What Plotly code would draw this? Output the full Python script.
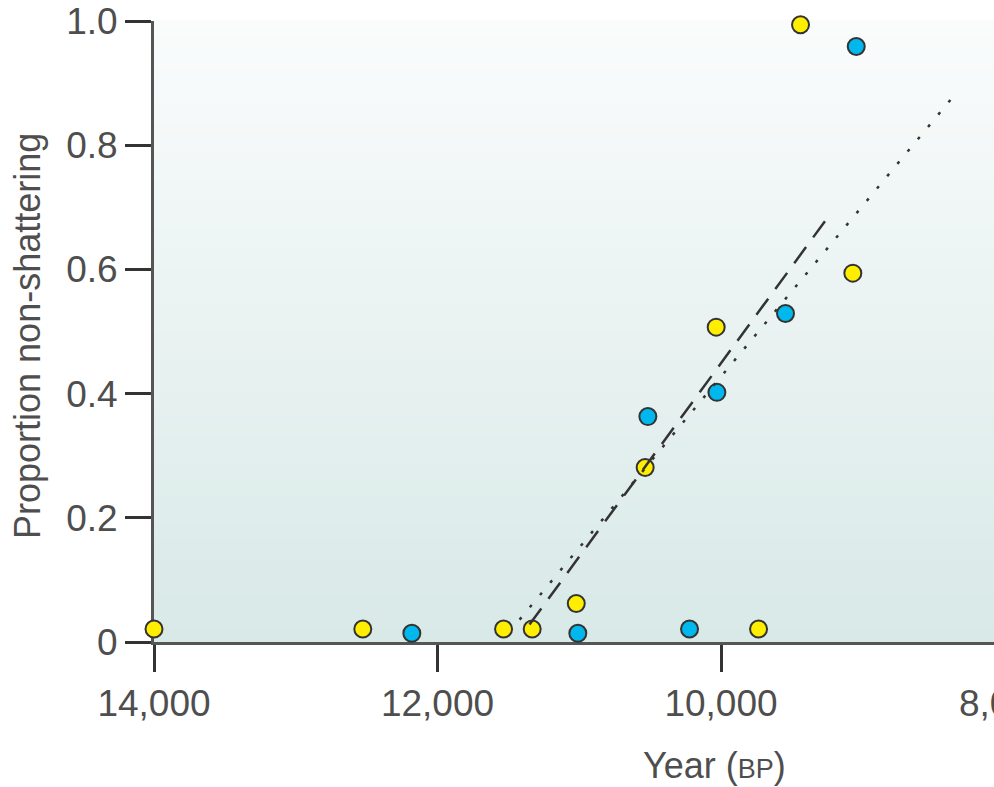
import plotly.graph_objects as go

# Proportion of non-shattering rachis by sample age (years BP)
yellow_year = [14000, 12527, 11534, 11332, 11021, 10535, 10034, 9735, 9439, 9070]
yellow_prop = [0.021, 0.021, 0.021, 0.021, 0.062, 0.281, 0.507, 0.021, 0.994, 0.594]

blue_year = [12181, 11010, 10516, 10222, 10029, 9545, 9046]
blue_prop = [0.014, 0.014, 0.363, 0.021, 0.402, 0.529, 0.959]

# Fitted trend lines (start / end points)
fit_dotted_year = [11421, 8374]
fit_dotted_prop = [0.036, 0.875]
fit_dashed_year = [11351, 9246]
fit_dashed_prop = [0.028, 0.684]

x_ticks = [14000, 12000, 10000]
x_tick_labels = ["14,000", "12,000", "10,000"]
x_cut_tick = "8,000"
y_ticks = [0, 0.2, 0.4, 0.6, 0.8, 1.0]
y_tick_labels = ["0", "0.2", "0.4", "0.6", "0.8", "1.0"]

FONT = "Liberation Sans, Arial, sans-serif"
TEXT = "#4e4e4e"
W, H = 994, 787
ML, MR, MT, MB = 154, 0, 21, 145
PX_PER_YEAR = 0.14175
x_lo = 14000 - (W - ML - MR) / PX_PER_YEAR

fig = go.Figure()

marker_line = dict(color="#333333", width=2)
fig.add_trace(go.Scatter(
    x=yellow_year, y=yellow_prop, mode="markers", cliponaxis=False,
    marker=dict(size=17, color="#ffee00", line=marker_line), showlegend=False))
fig.add_trace(go.Scatter(
    x=blue_year, y=blue_prop, mode="markers", cliponaxis=False,
    marker=dict(size=17, color="#00b8ee", line=marker_line), showlegend=False))

fig.add_trace(go.Scatter(
    x=fit_dotted_year, y=fit_dotted_prop, mode="lines",
    line=dict(color="#333333", width=2.5, dash="3px,13px"), showlegend=False))
fig.add_trace(go.Scatter(
    x=fit_dashed_year, y=fit_dashed_prop, mode="lines",
    line=dict(color="#333333", width=2.5, dash="20px,12px"), showlegend=False))

# Vertical background gradient, pale teal at the bottom fading to white
shapes = []
n = 90
top = (250, 252, 252)
bot = (216, 233, 231)
for i in range(n):
    f = (i + 0.5) / n
    c = tuple(round(bot[k] + (top[k] - bot[k]) * f) for k in range(3))
    shapes.append(dict(
        type="rect", xref="paper", yref="paper", x0=0, x1=1,
        y0=i / n, y1=(i + 1) / n + 0.002, layer="below",
        line=dict(width=0), fillcolor="rgb(%d,%d,%d)" % c))

plot_w = W - ML - MR
plot_h = H - MT - MB
annotations = [
    dict(text=x_cut_tick, xref="paper", yref="paper",
         x=(1005 - ML) / plot_w, y=(H - MB - 703) / plot_h,
         xanchor="center", yanchor="middle", showarrow=False,
         font=dict(family=FONT, size=37, color=TEXT)),
    dict(text="Year (<span style='font-size:27px'>BP</span>)",
         xref="paper", yref="paper",
         x=(714 - ML) / plot_w, y=(H - MB - 765) / plot_h,
         xanchor="center", yanchor="middle", showarrow=False,
         font=dict(family=FONT, size=36, color=TEXT)),
    dict(text="Proportion non-shattering", textangle=-90,
         xref="paper", yref="paper",
         x=(27 - ML) / plot_w, y=(H - MB - 336) / plot_h,
         xanchor="center", yanchor="middle", showarrow=False,
         font=dict(family=FONT, size=36, color=TEXT)),
]

fig.update_layout(
    width=W, height=H,
    margin=dict(l=ML, r=MR, t=MT, b=MB, pad=0),
    paper_bgcolor="white", plot_bgcolor="rgba(0,0,0,0)",
    shapes=shapes, annotations=annotations,
    font=dict(family=FONT, color=TEXT),
    xaxis=dict(
        range=[14000, x_lo], tickmode="array", tickvals=x_ticks,
        ticktext=x_tick_labels, ticks="outside", ticklen=27, tickwidth=3,
        tickcolor="#333333", showline=True, linecolor="#555555", linewidth=3,
        showgrid=False, zeroline=False, layer="below traces",
        tickfont=dict(family=FONT, size=37, color=TEXT)),
    yaxis=dict(
        range=[0, 1.0], tickmode="array", tickvals=y_ticks,
        ticktext=y_tick_labels, ticks="outside", ticklen=26, tickwidth=3,
        tickcolor="#333333", showline=True, linecolor="#555555", linewidth=3,
        showgrid=False, zeroline=False, layer="below traces",
        tickfont=dict(family=FONT, size=37, color=TEXT)),
)

fig.write_html("out.html")
